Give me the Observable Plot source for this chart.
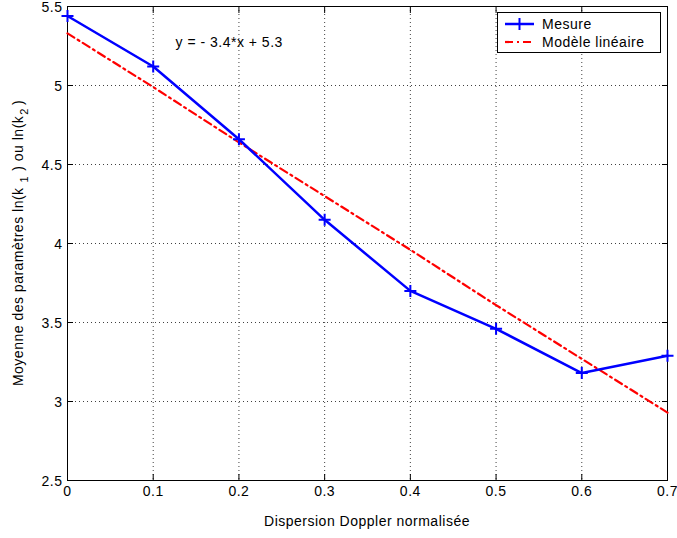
<!DOCTYPE html>
<html>
<head>
<meta charset="utf-8">
<script src="https://cdn.jsdelivr.net/npm/d3@7"></script>
<script src="https://cdn.jsdelivr.net/npm/@observablehq/plot@0.6"></script>
<style>
  html, body { margin: 0; padding: 0; background: #fff; }
</style>
</head>
<body>
<div id="chart"></div>
<script>
// ---- data ----
const xValues = [0, 0.1, 0.2, 0.3, 0.4, 0.5, 0.6, 0.7];
const mesureValues = [5.44, 5.12, 4.66, 4.15, 3.70, 3.46, 3.18, 3.29];
const modeleValues = [5.33, 4.99, 4.64, 4.30, 3.96, 3.61, 3.27, 2.93];
const xTicks = [0, 0.1, 0.2, 0.3, 0.4, 0.5, 0.6, 0.7];
const yTicks = [2.5, 3, 3.5, 4, 4.5, 5, 5.5];
const seriesNames = ["Mesure", "Modèle linéaire"];
const annotationText = ["y = - 3.4*x + 5.3"];
const annotationPos = [{x: 0.126, y: 5.27}];
const xLabel = "Dispersion Doppler normalisée";

const mesure = xValues.map((x, i) => ({x, y: mesureValues[i]}));
const modele = xValues.map((x, i) => ({x, y: modeleValues[i]}));
const annotation = annotationPos.map((p, i) => ({...p, text: annotationText[i]}));

const plusSymbol = {
  draw(ctx, size) {
    const r = Math.sqrt(size / Math.PI);
    ctx.moveTo(-r, 0); ctx.lineTo(r, 0);
    ctx.moveTo(0, -r); ctx.lineTo(0, r);
  }
};

const fmt = d => String(d);
const blank = () => "";

const plot = Plot.plot({
  width: 677,
  height: 538,
  marginLeft: 67,
  marginRight: 10,
  marginTop: 6,
  marginBottom: 58,
  style: {fontFamily: "'Liberation Sans', Arial, sans-serif", fontSize: "14px", letterSpacing: "0.5px", color: "#000", background: "#fff"},
  x: {domain: [0, 0.7]},
  y: {domain: [2.5, 5.5]},
  marks: [
    Plot.gridX(xTicks, {stroke: "#000", strokeOpacity: 0.75, strokeDasharray: "1,3"}),
    Plot.gridY(yTicks, {stroke: "#000", strokeOpacity: 0.75, strokeDasharray: "1,3"}),
    Plot.axisX(xTicks, {anchor: "bottom", tickSize: 0, tickPadding: 6, tickFormat: fmt, label: null}),
    Plot.axisY(yTicks, {anchor: "left", tickSize: 0, tickPadding: 5, tickFormat: fmt, label: null, dy: 1.5}),
    Plot.axisX(xTicks, {anchor: "bottom", tickSize: -6, tickFormat: blank, label: null}),
    Plot.axisX(xTicks, {anchor: "top", tickSize: -6, tickFormat: blank, label: null}),
    Plot.axisY(yTicks, {anchor: "left", tickSize: -6, tickFormat: blank, label: null}),
    Plot.axisY(yTicks, {anchor: "right", tickSize: -6, tickFormat: blank, label: null}),
    Plot.frame({stroke: "#000", strokeWidth: 1}),
    Plot.line(modele, {x: "x", y: "y", stroke: "#ff0000", strokeWidth: 2.2, strokeDasharray: "8,4,2,4"}),
    Plot.line(mesure, {x: "x", y: "y", stroke: "#0000ff", strokeWidth: 2.5}),
    Plot.dot(mesure, {x: "x", y: "y", symbol: plusSymbol, r: 6, stroke: "#0000ff", strokeWidth: 2, fill: "none"}),
    Plot.text(annotation, {x: "x", y: "y", text: "text", textAnchor: "start", fill: "#000"})
  ]
});

document.getElementById("chart").appendChild(plot);

const svg = d3.select(plot);

// x axis label
svg.append("text")
  .attr("x", 367).attr("y", 526)
  .attr("text-anchor", "middle")
  .attr("fill", "#000")
  .text(xLabel);

// y axis label with subscripts
const yl = svg.append("text")
  .attr("transform", "translate(23,243) rotate(-90)")
  .attr("text-anchor", "middle")
  .attr("fill", "#000");
yl.append("tspan").text("Moyenne des paramètres ln(k");
yl.append("tspan").attr("dx", 5).attr("dy", 5).attr("font-size", "11px").text("1");
yl.append("tspan").attr("dx", 5).attr("dy", -5).text(") ou ln(k");
yl.append("tspan").attr("dx", 1).attr("dy", 5).attr("font-size", "11px").text("2");
yl.append("tspan").attr("dx", 3).attr("dy", -5).text(")");

// legend
const lg = svg.append("g").attr("text-anchor", "start");
lg.append("rect").attr("x", 497.5).attr("y", 12.5).attr("width", 163).attr("height", 40)
  .attr("fill", "#fff").attr("stroke", "#000").attr("stroke-width", 1);
lg.append("line").attr("x1", 505).attr("x2", 534).attr("y1", 24).attr("y2", 24)
  .attr("stroke", "#0000ff").attr("stroke-width", 2.5);
lg.append("path").attr("d", "M513.5,24h12M519.5,18v12").attr("stroke", "#0000ff").attr("stroke-width", 2);
lg.append("line").attr("x1", 505).attr("x2", 534).attr("y1", 42).attr("y2", 42)
  .attr("stroke", "#ff0000").attr("stroke-width", 2.2).attr("stroke-dasharray", "8,4,2,4");
lg.append("text").attr("x", 542).attr("y", 29).attr("text-anchor", "start").attr("fill", "#000").text(seriesNames[0]);
lg.append("text").attr("x", 542).attr("y", 47).attr("text-anchor", "start").attr("fill", "#000").text(seriesNames[1]);
</script>
</body>
</html>
